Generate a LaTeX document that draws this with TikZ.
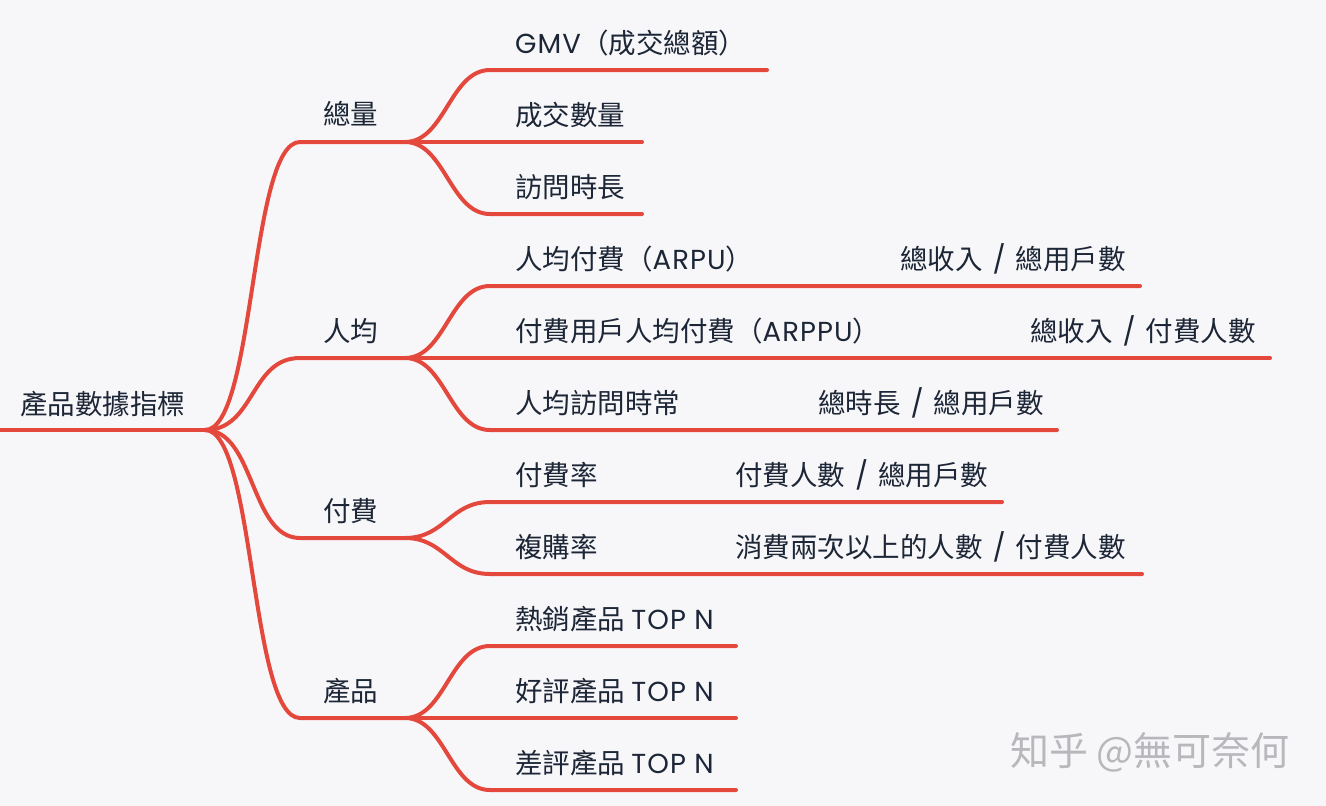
\documentclass[tikz,border=0pt]{standalone}
\usepackage{fontspec}
\setmainfont{Noto Sans CJK TC}
\newfontfamily\latf[LetterSpace=4]{Poppins}
\definecolor{bg}{HTML}{F7F7F9}
\definecolor{br}{HTML}{E4483D}
\definecolor{tx}{HTML}{1C2636}
\definecolor{wm}{HTML}{B8B8BC}
\newcommand\lt[1]{{\latf #1}}
\newcommand\divsl{\hspace{10pt}\lt{/}\hspace{10pt}}
\begin{document}
\begin{tikzpicture}[x=1pt,y=-1pt,
  lbl/.style={anchor=base west, inner sep=0, text=tx, font=\fontsize{27.5}{32}\selectfont},
  link/.style={draw=br, line width=4pt, line cap=round},
  wmark/.style={anchor=base west, inner sep=0, text=wm, font=\fontsize{39}{44}\selectfont}]
\fill[bg] (0,0) rectangle (1326,806);
\useasboundingbox (0,0) rectangle (1326,806);

% labels
\node[lbl] (root) at (20,414) {產品數據指標};
\node[lbl] (zl) at (323,124) {總量};
\node[lbl] (rj) at (323,341) {人均};
\node[lbl] (ff) at (323,521) {付費};
\node[lbl] (cp) at (323,701) {產品};

\node[lbl] (gmv) at (515,53) {\lt{GMV}（成交總額）};
\node[lbl] (cjsl) at (515,125) {成交數量};
\node[lbl] (fwsc) at (515,197) {訪問時長};
\node[lbl] (arpu) at (515,269) {人均付費（\lt{ARPU}）};
\node[lbl] (arpuf) at (900,269) {總收入\divsl 總用戶數};
\node[lbl] (arppu) at (515,341) {付費用戶人均付費（\lt{ARPPU}）};
\node[lbl] (arppuf) at (1030,341) {總收入\divsl 付費人數};
\node[lbl] (rjfw) at (515,413) {人均訪問時常};
\node[lbl] (rjfwf) at (818,413) {總時長\divsl 總用戶數};
\node[lbl] (ffl) at (515,485) {付費率};
\node[lbl] (fflf) at (735,485) {付費人數\divsl 總用戶數};
\node[lbl] (fgl) at (515,557) {複購率};
\node[lbl] (fglf) at (735,557) {消費兩次以上的人數\divsl 付費人數};
\node[lbl] (rx) at (515,629) {熱銷產品 \lt{TOP N}};
\node[lbl] (hp) at (515,701) {好評產品 \lt{TOP N}};
\node[lbl] (cpp) at (515,773) {差評產品 \lt{TOP N}};

\node[wmark] (wmk) at (1010,765) {知乎 @無可奈何};

% connector points
\coordinate (r0) at (0,430);
\coordinate (rJ) at (205,430);
\coordinate (a1s) at (300,142); \coordinate (a1e) at (405,142);
\coordinate (a2s) at (300,358); \coordinate (a2e) at (405,358);
\coordinate (a3s) at (300,538); \coordinate (a3e) at (405,538);
\coordinate (a4s) at (300,718); \coordinate (a4e) at (405,718);

\coordinate (c1s) at (490,70);  \coordinate (c1e) at (767,70);
\coordinate (c2e) at (642,142);
\coordinate (c3s) at (490,214); \coordinate (c3e) at (642,214);
\coordinate (c4s) at (490,286); \coordinate (c4e) at (1140,286);
\coordinate (c5e) at (1270,358);
\coordinate (c6s) at (490,430); \coordinate (c6e) at (1057,430);
\coordinate (c7s) at (490,502); \coordinate (c7e) at (1002,502);
\coordinate (c8s) at (490,574); \coordinate (c8e) at (1142,574);
\coordinate (c9s) at (490,646); \coordinate (c9e) at (736,646);
\coordinate (c10e) at (736,718);
\coordinate (c11s) at (490,790); \coordinate (c11e) at (736,790);

% root
\draw[link] (r0) -- (rJ);
\draw[link] (rJ) .. controls +(50,0) and +(-50,0) .. (a1s) -- (a1e);
\draw[link] (rJ) .. controls +(50,0) and +(-50,0) .. (a2s) -- (a2e);
\draw[link] (rJ) .. controls +(50,0) and +(-50,0) .. (a3s) -- (a3e);
\draw[link] (rJ) .. controls +(50,0) and +(-50,0) .. (a4s) -- (a4e);

% level 2
\draw[link] (a1e) .. controls +(40,0) and +(-40,0) .. (c1s) -- (c1e);
\draw[link] (a1e) -- (c2e);
\draw[link] (a1e) .. controls +(40,0) and +(-40,0) .. (c3s) -- (c3e);

\draw[link] (a2e) .. controls +(40,0) and +(-40,0) .. (c4s) -- (c4e);
\draw[link] (a2e) -- (c5e);
\draw[link] (a2e) .. controls +(40,0) and +(-40,0) .. (c6s) -- (c6e);

\draw[link] (a3e) .. controls +(40,0) and +(-40,0) .. (c7s) -- (c7e);
\draw[link] (a3e) .. controls +(40,0) and +(-40,0) .. (c8s) -- (c8e);

\draw[link] (a4e) .. controls +(40,0) and +(-40,0) .. (c9s) -- (c9e);
\draw[link] (a4e) -- (c10e);
\draw[link] (a4e) .. controls +(40,0) and +(-40,0) .. (c11s) -- (c11e);
\end{tikzpicture}
\end{document}
